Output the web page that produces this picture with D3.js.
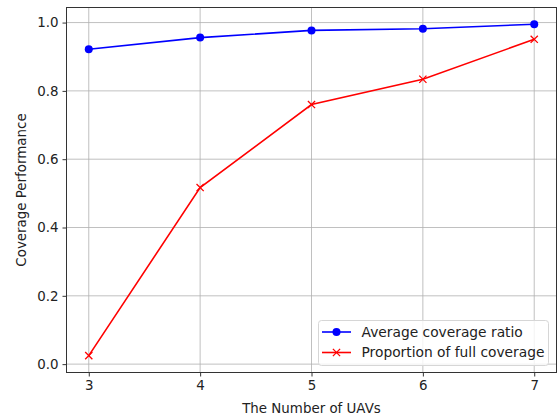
<!DOCTYPE html>
<html>
<head>
<meta charset="utf-8">
<script src="https://cdn.jsdelivr.net/npm/d3@7"></script>
<style>
  html, body { margin: 0; padding: 0; background: #fff; }
  svg { display: block; font-family: "DejaVu Sans", sans-serif; }
</style>
</head>
<body>
<svg id="chart" width="558" height="418"></svg>
<script>
// Number of UAVs on the x axis
const uavCounts = [3, 4, 5, 6, 7];
// Average coverage ratio per UAV count
const avgCoverage = [0.922, 0.956, 0.977, 0.982, 0.995];
// Proportion of runs with full coverage
const fullCoverage = [0.025, 0.517, 0.760, 0.834, 0.951];
const xTicks = [3, 4, 5, 6, 7];
const yTicks = [0.0, 0.2, 0.4, 0.6, 0.8, 1.0];
const seriesNames = ["Average coverage ratio", "Proportion of full coverage"];

const FS = 13.4;
const LEG_FS = 13.8;
const svg = d3.select("#chart");
const plot = { left: 66.5, top: 7.5, right: 556.5, bottom: 372.5 };

const x = d3.scaleLinear().domain([2.8, 7.2]).range([plot.left, plot.right]);
const y = d3.scaleLinear().domain([-0.0245, 1.0441]).range([plot.bottom, plot.top]);

// Grid lines
const grid = svg.append("g").attr("stroke", "#b0b0b0").attr("stroke-width", 0.8);
xTicks.forEach(t => grid.append("line")
  .attr("x1", x(t)).attr("x2", x(t)).attr("y1", plot.top).attr("y2", plot.bottom));
yTicks.forEach(t => grid.append("line")
  .attr("x1", plot.left).attr("x2", plot.right).attr("y1", y(t)).attr("y2", y(t)));

// Axes
const xAxis = d3.axisBottom(x).tickValues(xTicks).tickFormat(d3.format("d"))
  .tickSizeInner(4).tickSizeOuter(0).tickPadding(4);
const yAxis = d3.axisLeft(y).tickValues(yTicks).tickFormat(d3.format(".1f"))
  .tickSizeInner(4).tickSizeOuter(0).tickPadding(4);

const gx = svg.append("g").attr("transform", `translate(0,${plot.bottom})`).call(xAxis);
const gy = svg.append("g").attr("transform", `translate(${plot.left},0)`).call(yAxis);
[gx, gy].forEach(g => {
  g.select(".domain").remove();
  g.selectAll(".tick line").attr("stroke", "#000").attr("stroke-width", 0.8);
  g.selectAll(".tick text").attr("fill", "#222").attr("font-size", FS)
    .attr("font-family", "DejaVu Sans, sans-serif");
});

// Frame
svg.append("rect")
  .attr("x", plot.left).attr("y", plot.top)
  .attr("width", plot.right - plot.left).attr("height", plot.bottom - plot.top)
  .attr("fill", "none").attr("stroke", "#333").attr("stroke-width", 1);

// Series lines
const line = d3.line().x(d => x(d[0])).y(d => y(d[1]));
const blueData = uavCounts.map((u, i) => [u, avgCoverage[i]]);
const redData = uavCounts.map((u, i) => [u, fullCoverage[i]]);

svg.append("path").datum(blueData).attr("d", line)
  .attr("fill", "none").attr("stroke", "#0000ff").attr("stroke-width", 1.6);
svg.append("path").datum(redData).attr("d", line)
  .attr("fill", "none").attr("stroke", "#ff0000").attr("stroke-width", 1.6);

// Markers
svg.append("g").selectAll("circle").data(blueData).join("circle")
  .attr("cx", d => x(d[0])).attr("cy", d => y(d[1])).attr("r", 4)
  .attr("fill", "#0000ff");

function cross(g, cx, cy, s) {
  g.append("path")
    .attr("d", `M${cx - s},${cy - s}L${cx + s},${cy + s}M${cx - s},${cy + s}L${cx + s},${cy - s}`)
    .attr("stroke", "#ff0000").attr("stroke-width", 1.3).attr("fill", "none");
}
const crossG = svg.append("g");
redData.forEach(d => cross(crossG, x(d[0]), y(d[1]), 3.6));

// Axis titles
svg.append("text").attr("x", (plot.left + plot.right) / 2).attr("y", 408).attr("dy", "0.35em")
  .attr("text-anchor", "middle").attr("font-size", FS).attr("fill", "#222")
  .text("The Number of UAVs");
svg.append("text").attr("transform", `translate(21.5,${(plot.top + plot.bottom) / 2}) rotate(-90)`)
  .attr("dy", "0.35em")
  .attr("text-anchor", "middle").attr("font-size", FS).attr("fill", "#222")
  .text("Coverage Performance");

// Legend
const leg = svg.append("g");
leg.append("rect").attr("x", 318.5).attr("y", 320.5).attr("width", 230).attr("height", 45)
  .attr("rx", 3).attr("fill", "#fff").attr("fill-opacity", 0.8)
  .attr("stroke", "#d6d6d6").attr("stroke-width", 1);
const rows = [
  { name: seriesNames[0], color: "#0000ff", y: 332, marker: "circle" },
  { name: seriesNames[1], color: "#ff0000", y: 352.5, marker: "cross" }
];
rows.forEach(r => {
  leg.append("line").attr("x1", 322).attr("x2", 351).attr("y1", r.y).attr("y2", r.y)
    .attr("stroke", r.color).attr("stroke-width", 1.6);
  if (r.marker === "circle") {
    leg.append("circle").attr("cx", 336.5).attr("cy", r.y).attr("r", 4).attr("fill", r.color);
  } else {
    cross(leg, 336.5, r.y, 3.6);
  }
  leg.append("text").attr("x", 361.5).attr("y", r.y).attr("dy", "0.35em")
    .attr("font-size", LEG_FS).attr("fill", "#222").text(r.name);
});
</script>
</body>
</html>
